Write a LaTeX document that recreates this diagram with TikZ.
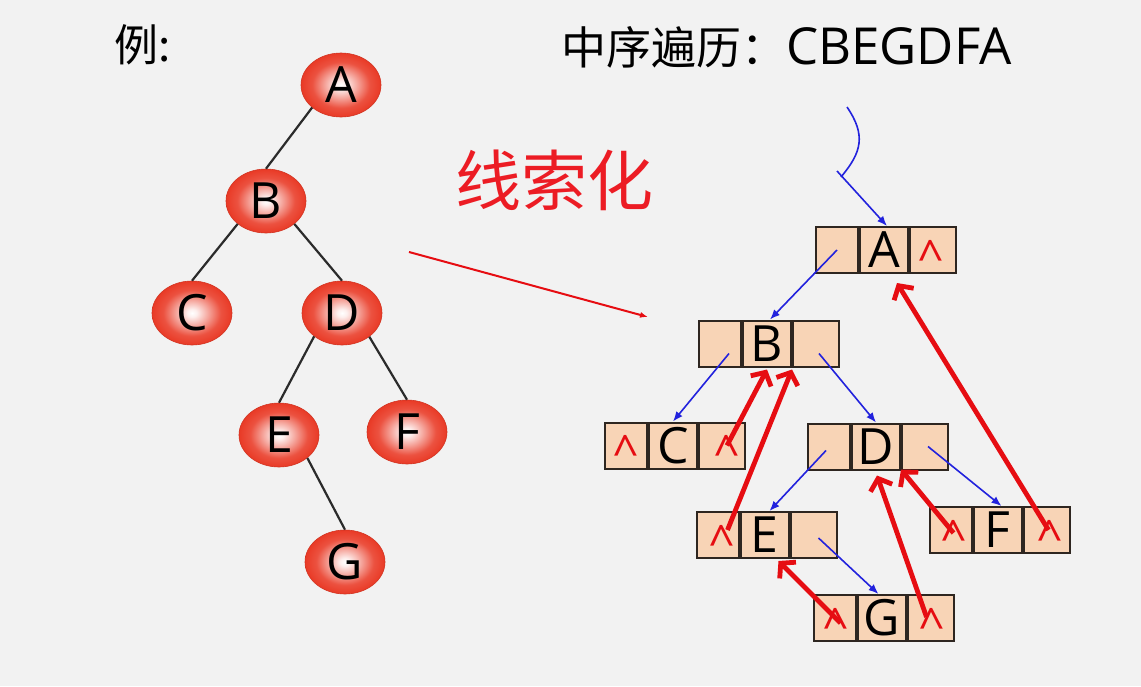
\documentclass[tikz,border=0pt]{standalone}
\usepackage{fontspec}
\setmainfont{Noto Sans CJK SC}
\newfontfamily\latinf{Open Sans}
\usetikzlibrary{arrows.meta,shapes.geometric,calc}
\definecolor{bg}{HTML}{F2F2F2}
\definecolor{ballred}{HTML}{E93A26}
\definecolor{peach}{HTML}{F8D4B6}
\definecolor{cellline}{HTML}{2E2620}
\definecolor{threadred}{HTML}{E60D12}
\definecolor{childblue}{HTML}{2222DD}
\definecolor{titlered}{HTML}{EC1C24}
\definecolor{edgegray}{HTML}{2B2B2B}
\pgfdeclareradialshading{redball}{\pgfpoint{0bp}{0bp}}{color(0bp)=(white); color(3bp)=(ballred!8!white); color(10bp)=(ballred!45!white); color(18bp)=(ballred!88!white); color(25bp)=(ballred); color(50bp)=(ballred)}
\newcommand{\tnbox}[4]{%
  \node[cell,minimum width=48] (m#1) at (#2,#3) {#4};
  \node[cell,minimum width=42,anchor=east] (l#1) at (m#1.west) {};
  \node[cell,minimum width=46,anchor=west] (r#1) at (m#1.east) {};
}
\begin{document}
\begin{tikzpicture}[x=1pt,y=-1pt,
  ball/.style={ellipse, minimum width=80, minimum height=64, shading=redball, draw=ballred!90!black, line width=0.6, inner sep=0, font=\latinf\fontsize{50}{50}\selectfont},
  cell/.style={draw=cellline, fill=peach, line width=2, minimum height=46, inner sep=0, font=\latinf\fontsize{50}{50}\selectfont},
  caret/.style={anchor=base, inner sep=0, text=threadred, font=\latinf\fontsize{46}{46}\selectfont},
  edge/.style={draw=edgegray, line width=2.2},
  thread/.style={draw=threadred, line width=4.8, -{Straight Barb[length=10pt,width=23pt]}},
  child/.style={draw=childblue, line width=1.6, -{Latex[length=10pt,width=8pt]}},
  childline/.style={draw=childblue, line width=1.6},
  pointer/.style={draw=threadred, line width=2, -{Latex[length=8pt,width=6pt]}},
  txt/.style={inner sep=0}]
\fill[bg] (0,0) rectangle (1141,686);
\useasboundingbox (0,0) rectangle (1141,686);

% titles
\node[txt, anchor=west, font=\fontsize{44}{44}\selectfont] (lbl) at (114,45) {例:};
\node[txt, anchor=west, font=\fontsize{45}{45}\selectfont] (ttl) at (561,47) {中序遍历：{\latinf\fontsize{51}{51}\selectfont CBEGDFA}};
\node[txt, anchor=west, font=\fontsize{66}{66}\selectfont, text=titlered] (thr) at (455,180) {线索化};

% left tree
\node[ball] (tA) at (341,85) {A};
\node[ball] (tB) at (266,201) {B};
\node[ball] (tC) at (192,313) {C};
\node[ball] (tD) at (342,313) {D};
\node[ball] (tE) at (279,435) {E};
\node[ball] (tF) at (407,432) {F};
\node[ball] (tG) at (345,562) {G};
\draw[edge] (tA.218) -- (tB.north);
\draw[edge] (tB.219) -- (tC.north);
\draw[edge] (tB.321) -- (tD.north);
\draw[edge] (tD.220) -- (tE.north);
\draw[edge] (tD.319) -- (tF.north);
\draw[edge] (tE.321) -- (tG.north);

% pointer arrow
\coordinate (r0) at (409,252);
\coordinate (r1) at (648,317);
\draw[pointer] (r0) -- (r1);

% threaded boxes
\tnbox{A}{884}{250}{A}
\tnbox{B}{767}{343.5}{B}
\tnbox{C}{673}{445.5}{C}
\tnbox{D}{876}{446.5}{D}
\tnbox{E}{764.5}{535}{E}
\tnbox{F}{997.5}{530}{F}
\tnbox{G}{881.5}{618}{G}

% carets
\node[caret] (kAr) at ($(rA.center)+(-2,23)$) {\textasciicircum};
\node[caret] (kCl) at ($(lC.center)+(0,23)$) {\textasciicircum};
\node[caret] (kCr) at ($(rC.center)+(5,23)$) {\textasciicircum};
\node[caret] (kEl) at ($(lE.center)+(4,23)$) {\textasciicircum};
\node[caret] (kFl) at ($(lF.center)+(3.5,23)$) {\textasciicircum};
\node[caret] (kFr) at ($(rF.center)+(3,23)$) {\textasciicircum};
\node[caret] (kGl) at ($(lG.center)+(1.5,23)$) {\textasciicircum};
\node[caret] (kGr) at ($(rG.center)+(1,23)$) {\textasciicircum};

% child pointers
\coordinate (e0) at (847,107);
\coordinate (e1) at (841,177);
\coordinate (e2) at (837,171);
\draw[childline] (e0) .. controls (866,135) and (862,152) .. (e1);
\draw[child] (e2) -- ($(mA.north)+(3,0)$);
\draw[child] (lA.center) -- ($(mB.north)+(3,0)$);
\draw[child] ($(lB.center)+(9,10)$) -- (mC.north);
\draw[child] ($(rB.center)+(3,10)$) -- (mD.north);
\draw[child] ($(lD.center)+(-3,4)$) -- ($(mE.north)+(5,0)$);
\draw[child] ($(rD.center)+(3,0)$) -- ($(mF.north)+(4,0)$);
\draw[child] ($(rE.center)+(5,3)$) -- ($(mG.north)+(-3,0)$);

% threads
\draw[thread] ($(rC.center)+(5,0)$) -- ($(mB.south)+(0,2)$);
\draw[thread] ($(lE.center)+(10,-5)$) -- ($(mB.south east)+(0,2)$);
\draw[thread] ($(lG.center)+(6,5)$) -- ($(mE.south)+(14,2)$);
\draw[thread] ($(rG.center)+(-4,-1)$) -- ($(mD.south)+(1,5)$);
\draw[thread] ($(lF.center)+(3,3)$) -- ($(mD.south east)+(0,-1)$);
\draw[thread] ($(rF.center)+(2,0)$) -- ($(mA.south)+(13,9)$);
\end{tikzpicture}
\end{document}
